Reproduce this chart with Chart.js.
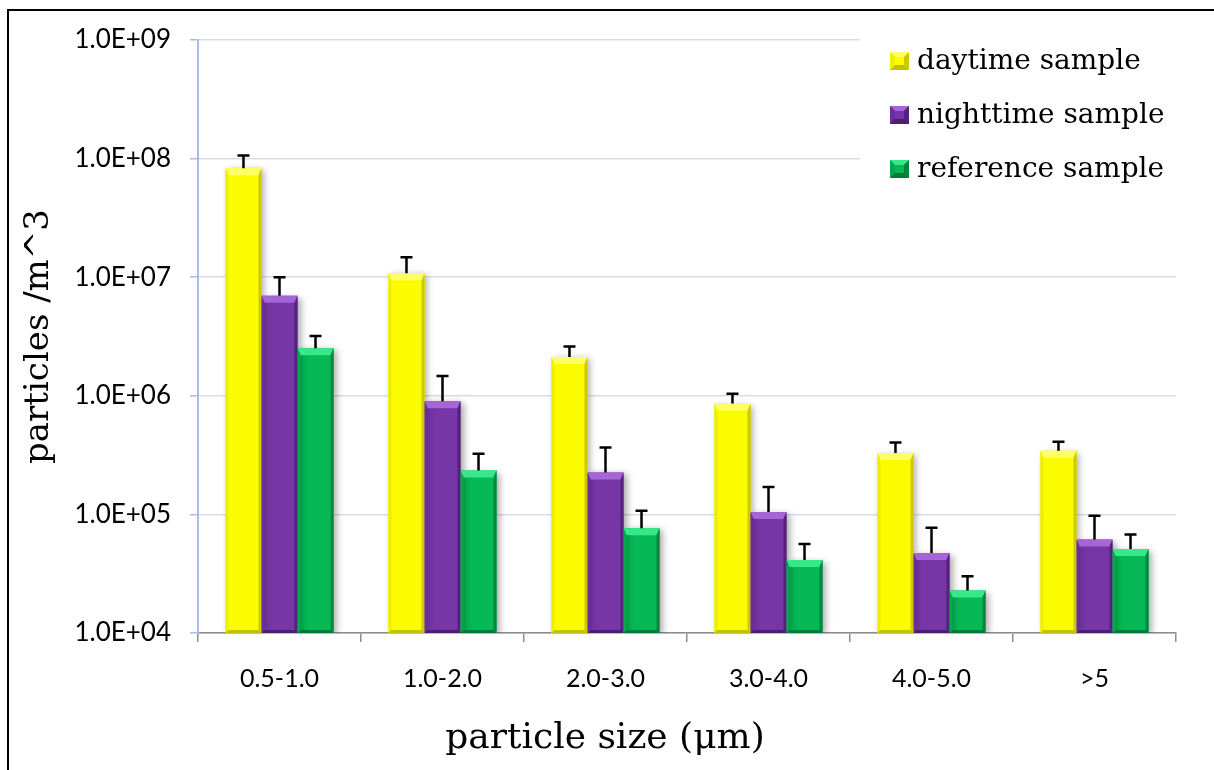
<!DOCTYPE html>
<html>
<head>
<meta charset="utf-8">
<script src="https://cdn.jsdelivr.net/npm/chart.js@4.4.1/dist/chart.umd.min.js"></script>
<style>
  html, body { margin: 0; padding: 0; background: #fff; overflow: hidden; }
  #wrap { position: relative; width: 1214px; height: 770px; }
  #frame { position: absolute; left: 7px; top: 9px; width: 1400px; height: 1000px;
           border-top: 2px solid #000; border-left: 2px solid #000; }
  #grafico { position: absolute; left: 0; top: 0; }
</style>
</head>
<body>
<div id="wrap">
  <div id="frame"></div>
  <canvas id="grafico" width="1214" height="770"></canvas>
</div>
<script>
// ===================== DADOS =====================
const categorias = ["0.5-1.0", "1.0-2.0", "2.0-3.0", "3.0-4.0", "4.0-5.0", ">5"];
const nomesSeries = ["daytime sample", "nighttime sample", "reference sample"];
const tituloX = "particle size (μm)";
const tituloY = "particles /m^3";

const diurno = [8.3e7, 1.08e7, 2.12e6, 8.6e5, 3.3e5, 3.44e5];
const noturno = [6.97e6, 9.0e5, 2.26e5, 1.05e5, 4.73e4, 6.13e4];
const referencia = [2.52e6, 2.34e5, 7.64e4, 4.13e4, 2.28e4, 5.12e4];

// barras de erro (so para cima)
const erroDiurno = [2.3e7, 3.9e6, 4.9e5, 1.8e5, 7.3e4, 6.6e4];
const erroNoturno = [3.0e6, 5.7e5, 1.4e5, 6.5e4, 3.0e4, 3.6e4];
const erroReferencia = [6.8e5, 9.1e4, 3.1e4, 1.5e4, 7.3e3, 1.64e4];

const yTicks = [1e4, 1e5, 1e6, 1e7, 1e8, 1e9];

// ===================== ESTILOS =====================
const estilos = [
  { base: "#fcfc00", topo: "#ffff66", esq: "#eeee00", dir: "#cdc800", baixo: "#c4bf00" },
  { base: "#7636a6", topo: "#a565d6", esq: "#6c2e9b", dir: "#55217e", baixo: "#4d1d72" },
  { base: "#06b856", topo: "#36e88a", esq: "#05a84e", dir: "#00873c", baixo: "#007c36" }
];

function formatoE(v) {
  const exp = Math.floor(Math.log10(v) + 1e-9);
  const mant = (v / Math.pow(10, exp)).toFixed(1);
  return mant + "E+" + String(exp).padStart(2, "0");
}

// desenha o efeito "bisel" de um retangulo
function bisel(ctx, l, t, r, b, e, st, bt) {
  ctx.fillStyle = st.topo;
  ctx.beginPath();
  ctx.moveTo(l, t); ctx.lineTo(r, t); ctx.lineTo(r - e, t + bt); ctx.lineTo(l + e, t + bt);
  ctx.closePath(); ctx.fill();
  ctx.fillStyle = st.esq;
  ctx.beginPath();
  ctx.moveTo(l, t); ctx.lineTo(l + e, t + bt); ctx.lineTo(l + e, b - e); ctx.lineTo(l, b);
  ctx.closePath(); ctx.fill();
  ctx.fillStyle = st.dir;
  ctx.beginPath();
  ctx.moveTo(r, t); ctx.lineTo(r - e, t + bt); ctx.lineTo(r - e, b - e); ctx.lineTo(r, b);
  ctx.closePath(); ctx.fill();
  ctx.fillStyle = st.baixo;
  ctx.beginPath();
  ctx.moveTo(l, b); ctx.lineTo(l + e, b - e); ctx.lineTo(r - e, b - e); ctx.lineTo(r, b);
  ctx.closePath(); ctx.fill();
}

// ===================== PLUGINS =====================
const sombra = {
  id: "sombra",
  beforeDatasetDraw(chart) {
    const ctx = chart.ctx;
    ctx.save();
    ctx.shadowColor = "rgba(0,0,0,0.35)";
    ctx.shadowBlur = 7;
    ctx.shadowOffsetX = 3;
    ctx.shadowOffsetY = 2;
  },
  afterDatasetDraw(chart) {
    chart.ctx.restore();
  }
};

const acabamento = {
  id: "acabamento",
  afterDatasetsDraw(chart) {
    const ctx = chart.ctx;
    const yScale = chart.scales.y;
    ctx.save();
    chart.data.datasets.forEach((ds, i) => {
      const meta = chart.getDatasetMeta(i);
      meta.data.forEach((bar) => {
        const l = bar.x - bar.width / 2;
        const r = bar.x + bar.width / 2;
        const top = Math.min(bar.y, bar.base);
        const bottom = Math.max(bar.y, bar.base);
        bisel(ctx, l, top, r, bottom, 3, estilos[i], 7);
      });
    });
    // barras de erro
    ctx.strokeStyle = "#000";
    ctx.lineWidth = 2.5;
    chart.data.datasets.forEach((ds, i) => {
      const meta = chart.getDatasetMeta(i);
      meta.data.forEach((bar, j) => {
        const yTopo = yScale.getPixelForValue(ds.data[j] + ds.erro[j]);
        ctx.beginPath();
        ctx.moveTo(bar.x, bar.y);
        ctx.lineTo(bar.x, yTopo);
        ctx.moveTo(bar.x - 6, yTopo);
        ctx.lineTo(bar.x + 6, yTopo);
        ctx.stroke();
      });
    });
    ctx.restore();
  }
};

// legenda dentro da area do grafico + titulo do eixo X (deslocado para a esquerda, como no original)
const legenda = {
  id: "legenda",
  afterDraw(chart) {
    const ctx = chart.ctx;
    const area = chart.chartArea;
    const x0 = area.right - 316;
    ctx.save();
    ctx.fillStyle = "#fff";
    ctx.fillRect(x0, area.top - 12, 340, 170);
    ctx.font = "28px 'DejaVu Serif'";
    ctx.textBaseline = "middle";
    chart.data.datasets.forEach((ds, i) => {
      const y = area.top + 21 + i * 54;
      const sx = x0 + 30;
      ctx.fillStyle = estilos[i].base;
      ctx.fillRect(sx, y - 9, 19, 18);
      bisel(ctx, sx, y - 9, sx + 19, y + 9, 5, estilos[i], 5);
      ctx.fillStyle = "#000";
      ctx.fillText(ds.label, x0 + 57, y + 1);
    });

    ctx.font = "36px 'DejaVu Serif'";
    ctx.textAlign = "center";
    ctx.fillText(tituloX, area.left + 407, area.bottom + 106);
    ctx.restore();
  }
};

// ===================== GRAFICO =====================
const series = [diurno, noturno, referencia];
const erros = [erroDiurno, erroNoturno, erroReferencia];

new Chart(document.getElementById("grafico"), {
  type: "bar",
  data: {
    labels: categorias,
    datasets: series.map((d, i) => ({
      label: nomesSeries[i],
      data: d,
      erro: erros[i],
      backgroundColor: estilos[i].base,
      borderWidth: 0,
      categoryPercentage: 0.663,
      barPercentage: 1.0
    }))
  },
  options: {
    responsive: false,
    animation: false,
    layout: { padding: { left: 0, top: 40, right: 38, bottom: 0 } },
    plugins: {
      legend: { display: false },
      tooltip: { enabled: false }
    },
    scales: {
      x: {
        grid: { display: true, drawOnChartArea: false, offset: true, tickLength: 9,
                color: "#8c8c8c", lineWidth: 1.5 },
        border: { color: "#8c8c8c", width: 1.5 },
        ticks: { font: { family: "Lato", size: 25 }, color: "#000", padding: 22 },
        title: { display: false },
        afterFit(s) { s.height = 137; }
      },
      y: {
        type: "logarithmic",
        min: 1e4,
        max: 1e9,
        afterBuildTicks(s) { s.ticks = yTicks.map(v => ({ value: v, major: true })); },
        grid: { color: "#d3ddf0", lineWidth: 1.5, tickLength: 8, tickColor: "#a9bde4" },
        border: { color: "#a9bde4", width: 2 },
        ticks: { callback: (v) => formatoE(v), font: { family: "Lato", size: 26 },
                 color: "#000", padding: 19 },
        title: { display: true, text: tituloY, color: "#000",
                 font: { family: "DejaVu Serif", size: 34 }, padding: { top: 19, bottom: 0 } },
        afterFit(s) { s.width = 198; }
      }
    }
  },
  plugins: [sombra, acabamento, legenda]
});
</script>
</body>
</html>
